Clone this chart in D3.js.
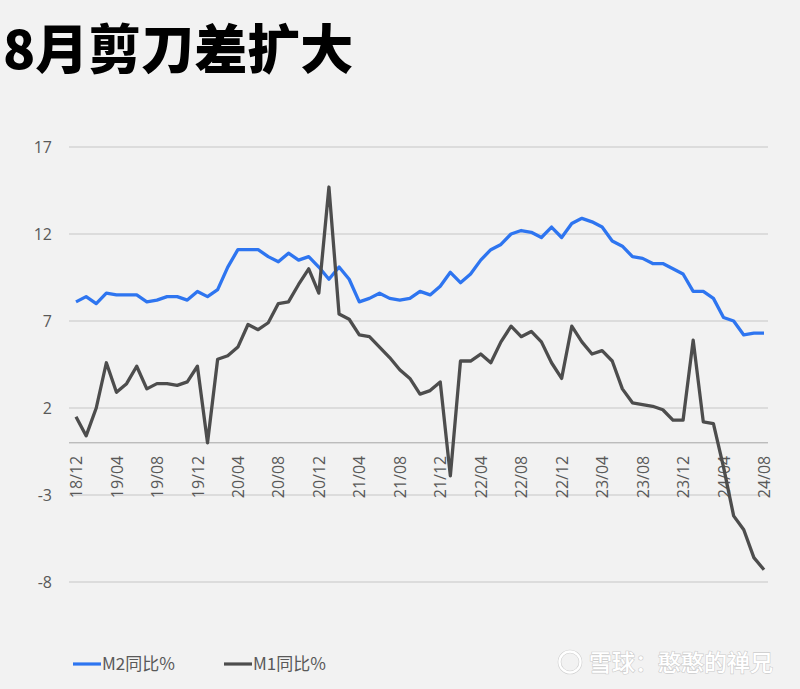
<!DOCTYPE html>
<html><head><meta charset="utf-8">
<script src="https://cdn.jsdelivr.net/npm/d3@7"></script>
<style>
html,body{margin:0;padding:0;background:#f2f2f2;}
svg{display:block;}
</style></head>
<body>
<svg id="chart" width="800" height="689"></svg>
<script>
const months = [];
(function(){ let y=2018, m=12; for(let i=0;i<69;i++){ months.push(String(y%100).padStart(2,'0')+'/'+String(m).padStart(2,'0')); m++; if(m>12){m=1;y++;} } })();

const m2 = [8.1,8.4,8.0,8.6,8.5,8.5,8.5,8.1,8.2,8.4,8.4,8.2,
  8.7,8.4,8.8,10.1,11.1,11.1,11.1,10.7,10.4,10.9,10.5,10.7,
  10.1,9.4,10.1,9.4,8.1,8.3,8.6,8.3,8.2,8.3,8.7,8.5,
  9.0,9.8,9.2,9.7,10.5,11.1,11.4,12.0,12.2,12.1,11.8,12.4,
  11.8,12.6,12.9,12.7,12.4,11.6,11.3,10.7,10.6,10.3,10.3,10.0,
  9.7,8.7,8.7,8.3,7.2,7.0,6.2,6.3,6.3];
const m1 = [1.5,0.4,2.0,4.6,2.9,3.4,4.4,3.1,3.4,3.4,3.3,3.5,
  4.4,0.0,4.8,5.0,5.5,6.8,6.5,6.9,8.0,8.1,9.1,10.0,
  8.6,14.7,7.4,7.1,6.2,6.1,5.5,4.9,4.2,3.7,2.8,3.0,
  3.5,-1.9,4.7,4.7,5.1,4.6,5.8,6.7,6.1,6.4,5.8,4.6,
  3.7,6.7,5.8,5.1,5.3,4.7,3.1,2.3,2.2,2.1,1.9,1.3,
  1.3,5.9,1.2,1.1,-1.4,-4.2,-5.0,-6.6,-7.3];
const yTicks = [17,12,7,2,-3,-8];
const tickLabels = months.filter((d,i)=>i%4===0);
const seriesNames = ['M2同比%','M1同比%'];
const colors = ['#2e75f0','#4d4d4d'];

const svg = d3.select('#chart');
const fontUI = "'Open Sans','Noto Sans CJK SC',sans-serif";

svg.append('text').attr('x',3).attr('y',69)
  .attr('font-family',"'Noto Sans CJK SC',sans-serif").attr('font-weight',900)
  .attr('font-size',53).attr('fill','#000').text('8月剪刀差扩大');

const x = d3.scalePoint().domain(months).range([76,764]);
const y = d3.scaleLinear().domain([-8,17]).range([582,147]);

// gridlines
svg.append('g').selectAll('line').data(yTicks).join('line')
  .attr('x1',69).attr('x2',768)
  .attr('y1',d=>y(d)).attr('y2',d=>y(d))
  .attr('stroke','#c6c6c6').attr('stroke-width',1);

// y labels
const yAxis = d3.axisLeft(y).tickValues(yTicks).tickSize(0).tickPadding(0).tickFormat(d=>String(d));
const gy = svg.append('g').attr('transform','translate(52,0)').call(yAxis);
gy.select('.domain').remove();
gy.selectAll('text').attr('font-family',fontUI).attr('font-size',16).attr('fill','#595959').attr('dy','0.35em');

// zero axis line
svg.append('line').attr('x1',69).attr('x2',768).attr('y1',y(0)).attr('y2',y(0))
  .attr('stroke','#a6a6a6').attr('stroke-width',1);

// x labels
const xAxis = d3.axisBottom(x).tickValues(tickLabels).tickSize(0).tickPadding(0);
const gx = svg.append('g').attr('transform',`translate(0,${y(0)})`).call(xAxis);
gx.select('.domain').remove();
gx.selectAll('text')
  .attr('font-family',fontUI).attr('font-size',16).attr('fill','#595959')
  .attr('transform','rotate(-90)').attr('text-anchor','end')
  .attr('x',-13).attr('y',0).attr('dy','0.35em');

// lines
const line = d3.line().x((d,i)=>x(months[i])).y(d=>y(d));
[m2,m1].forEach((s,k)=>{
  svg.append('path').datum(s).attr('d',line).attr('fill','none')
    .attr('stroke',colors[k]).attr('stroke-width',3.3).attr('stroke-linejoin','round');
});

// legend
const lg = svg.append('g').attr('transform','translate(73,664)');
const items = [{x:0},{x:151}];
seriesNames.forEach((n,k)=>{
  const g = lg.append('g').attr('transform',`translate(${items[k].x},0)`);
  g.append('line').attr('x1',0).attr('x2',28).attr('y1',0).attr('y2',0)
    .attr('stroke',colors[k]).attr('stroke-width',3.2);
  g.append('text').attr('x',29).attr('y',0).attr('dy','0.35em')
    .attr('font-family',"'Noto Sans CJK SC',sans-serif").attr('font-size',17).attr('fill','#595959').text(n);
});

// watermark
const wm = svg.append('g');
wm.append('circle').attr('cx',570).attr('cy',662).attr('r',10.5).attr('fill','none').attr('stroke','#cfcfcf').attr('stroke-width',3.6);
wm.append('circle').attr('cx',570).attr('cy',662).attr('r',10.5).attr('fill','none').attr('stroke','#ffffff').attr('stroke-width',2.4);
wm.append('text').attr('x',589).attr('y',671)
  .attr('font-family',"'Noto Sans CJK SC',sans-serif").attr('font-size',23).attr('font-weight',500)
  .attr('fill','#ffffff').attr('stroke','#cccccc').attr('stroke-width',1.2).attr('paint-order','stroke')
  .text('雪球：憨憨的禅兄');
</script>
</body></html>
